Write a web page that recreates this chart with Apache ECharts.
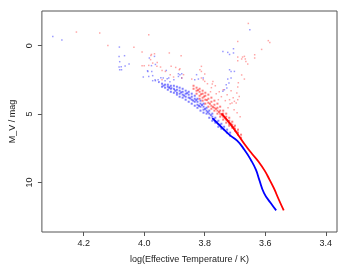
<!DOCTYPE html>
<html><head><meta charset="utf-8">
<script src="https://cdn.jsdelivr.net/npm/echarts@6/dist/echarts.min.js"></script>
<style>html,body{margin:0;padding:0;background:#fff}#c{width:349px;height:271px}</style>
</head><body><div id="c"></div>
<script>
var xTicks = [3.4, 3.6, 3.8, 4.0, 4.2];
var yTicks = [0, 5, 10];
var xMin = 3.363, xMax = 4.338, yMin = -2.54, yMax = 13.63;

var blueScatter = [[4.302,-0.68],[4.272,-0.42],[4.082,0.10],[4.083,0.78],[4.065,0.73],[4.081,1.17],[4.050,1.34],[4.063,1.49],[4.083,1.56],[4.076,1.54],[4.081,1.76],[4.075,1.76],[3.966,0.78],[3.983,0.90],[3.976,1.46],[3.963,1.37],[4.003,2.29],[3.988,1.88],[3.975,1.88],[3.972,2.19],[3.972,2.56],[3.963,2.56],[3.952,2.68],[3.937,2.36],[3.927,1.81],[3.924,2.41],[3.919,2.36],[3.887,2.05],[3.876,2.05],[3.882,2.12],[3.887,2.25],[3.876,2.36],[3.827,2.12],[3.821,2.44],[3.805,2.36],[3.833,2.49],[3.740,0.42],[3.724,0.49],[3.718,0.64],[3.705,0.22],[3.705,0.53],[3.718,1.76],[3.713,1.88],[3.702,1.88],[3.713,2.36],[3.724,2.44],[3.720,2.73],[3.729,2.85],[3.727,3.09],[3.735,3.22],[3.740,3.34],[3.651,-1.17],[3.989,1.83],[3.985,2.25],[3.916,3.02],[3.909,3.09],[3.900,3.22],[3.954,2.49],[3.945,2.34],[3.931,2.56],[3.915,2.63],[3.902,2.49],[3.964,2.49],[3.951,2.63]];

var redScatter = [[4.224,-1.00],[4.147,-0.93],[4.120,-0.02],[4.034,0.12],[3.985,-0.80],[4.007,0.46],[3.976,0.64],[3.966,0.59],[3.978,0.71],[3.979,1.02],[3.972,1.27],[3.957,1.22],[3.917,0.53],[3.878,0.73],[4.007,1.46],[4.000,1.46],[3.985,1.44],[3.946,1.56],[3.958,1.51],[3.941,1.81],[3.930,1.88],[3.911,1.51],[3.896,1.59],[3.882,1.68],[3.884,1.76],[3.914,2.12],[3.903,2.29],[3.941,2.49],[3.876,2.36],[3.870,2.12],[3.843,2.44],[3.811,1.88],[3.800,2.07],[3.811,2.36],[3.816,1.76],[3.811,1.51],[3.805,2.49],[3.800,2.61],[3.773,2.61],[3.775,2.80],[3.656,-1.63],[3.691,-0.31],[3.590,-0.37],[3.585,-0.24],[3.612,0.27],[3.635,0.66],[3.635,0.90],[3.691,0.83],[3.675,0.83],[3.669,0.78],[3.666,0.97],[3.678,0.97],[3.691,1.10],[3.664,1.15],[3.658,1.34],[3.678,2.14],[3.669,2.44],[3.689,2.71],[3.691,3.02],[3.694,3.46],[3.686,3.71],[3.691,3.95],[3.696,4.19],[3.702,4.07],[3.718,3.95],[3.710,4.19],[3.791,2.78],[3.778,3.07],[3.765,2.93],[3.752,3.37],[3.739,3.22],[3.745,3.73],[3.726,3.58],[3.732,4.02],[3.716,4.24],[3.706,3.80],[3.713,3.29],[3.762,3.51],[3.781,3.37],[3.723,4.54],[3.703,4.68],[3.693,4.90],[3.683,5.19],[3.755,3.95]];

var blueBand = [[3.941,2.78],[3.941,3.00],[3.931,2.85],[3.931,3.07],[3.922,2.85],[3.922,3.00],[3.922,3.22],[3.912,2.93],[3.912,3.15],[3.912,3.37],[3.902,2.93],[3.902,3.15],[3.902,3.44],[3.892,3.00],[3.892,3.22],[3.892,3.44],[3.892,3.58],[3.883,3.07],[3.883,3.29],[3.883,3.51],[3.883,3.73],[3.873,3.15],[3.873,3.37],[3.873,3.58],[3.873,3.80],[3.863,3.29],[3.863,3.51],[3.863,3.73],[3.863,3.95],[3.853,3.37],[3.853,3.58],[3.853,3.80],[3.853,4.10],[3.843,3.51],[3.843,3.73],[3.843,3.95],[3.843,4.24],[3.833,3.66],[3.833,3.88],[3.833,4.10],[3.833,4.39],[3.824,3.88],[3.824,4.10],[3.824,4.32],[3.824,4.54],[3.814,4.02],[3.814,4.24],[3.814,4.46],[3.814,4.75],[3.804,4.24],[3.804,4.46],[3.804,4.68],[3.804,4.90],[3.794,4.54],[3.794,4.75],[3.794,4.97],[3.785,4.75],[3.785,4.97],[3.785,5.27],[3.775,4.97],[3.775,5.19],[3.775,5.49],[3.765,5.27],[3.765,5.49],[3.765,5.63],[3.755,5.49],[3.755,5.71],[3.755,5.93],[3.745,5.71],[3.745,5.93],[3.745,6.07],[3.736,5.93],[3.736,6.14],[3.726,6.14],[3.726,6.36],[3.716,6.36],[3.716,6.58],
  [3.936,2.92],[3.917,3.08],[3.897,3.30],[3.878,3.42],[3.868,3.65],[3.858,3.47],[3.848,3.85],[3.838,4.02],[3.828,3.98],[3.819,4.40],[3.809,4.34],[3.799,4.62],[3.790,4.86],[3.780,5.08],[3.770,5.36],[3.760,5.58],[3.750,5.80]];

var redBand = [[3.837,2.93],[3.837,3.15],[3.827,3.07],[3.827,3.29],[3.827,3.51],[3.817,3.15],[3.817,3.37],[3.817,3.66],[3.817,3.88],[3.807,3.29],[3.807,3.51],[3.807,3.80],[3.807,4.02],[3.798,3.44],[3.798,3.66],[3.798,3.95],[3.798,4.24],[3.788,3.58],[3.788,3.88],[3.788,4.17],[3.788,4.46],[3.778,3.80],[3.778,4.10],[3.778,4.39],[3.778,4.61],[3.768,4.02],[3.768,4.32],[3.768,4.54],[3.768,4.75],[3.758,4.24],[3.758,4.54],[3.758,4.75],[3.758,4.97],[3.749,4.46],[3.749,4.75],[3.749,4.97],[3.749,5.19],[3.739,4.75],[3.739,4.97],[3.739,5.19],[3.739,5.41],[3.729,4.97],[3.729,5.19],[3.729,5.41],[3.729,5.63],[3.719,5.27],[3.719,5.49],[3.719,5.71],[3.719,5.85],[3.709,5.56],[3.709,5.78],[3.709,6.00],[3.700,5.85],[3.700,6.07],[3.700,6.22],[3.690,6.14],[3.690,6.36],[3.690,6.51],[3.680,6.51],[3.680,6.73],
  [3.822,3.25],[3.812,3.55],[3.802,3.72],[3.793,3.98],[3.783,4.25],[3.773,4.48],[3.763,4.62],[3.753,4.85],[3.744,5.08],[3.734,5.30],[3.724,5.52],[3.714,5.70],[3.704,5.95],[3.695,6.28]];

var blueLine = [[3.775,5.30],[3.745,5.95],[3.719,6.51],[3.693,6.95],[3.669,7.61],[3.648,8.34],[3.631,9.07],[3.620,9.80],[3.604,10.78],[3.582,11.51],[3.564,12.05]];
var redLine = [[3.745,4.95],[3.719,5.63],[3.690,6.51],[3.667,7.24],[3.644,7.90],[3.622,8.49],[3.602,9.14],[3.586,9.80],[3.572,10.41],[3.555,11.27],[3.539,12.05]];

var font = 'Liberation Sans, Arial, sans-serif';
var tickColor = '#555';

var chart = echarts.init(document.getElementById('c'), null, {renderer: 'canvas'});
chart.setOption({
  animation: false,
  grid: {left: 38, right: 12, top: 11, bottom: 39, show: true, borderColor: tickColor, borderWidth: 1, containLabel: false},
  xAxis: {
    type: 'value', inverse: true, min: xMin, max: xMax,
    name: 'log(Effective Temperature / K)', nameLocation: 'middle', nameGap: 23,
    nameTextStyle: {fontFamily: font, fontSize: 9, color: '#222'},
    axisLine: {show: false, onZero: false},
    axisTick: {show: true, customValues: xTicks, length: 4, lineStyle: {color: tickColor, width: 1}},
    axisLabel: {customValues: xTicks, margin: 7, fontFamily: font, fontSize: 9, color: '#222', formatter: function(v){return v.toFixed(1);}},
    splitLine: {show: false}
  },
  yAxis: {
    type: 'value', inverse: true, min: yMin, max: yMax,
    name: 'M_V / mag', nameLocation: 'middle', nameGap: 20,
    nameTextStyle: {fontFamily: font, fontSize: 9, color: '#222'},
    axisLine: {show: false, onZero: false},
    axisTick: {show: true, customValues: yTicks, length: 4, lineStyle: {color: tickColor, width: 1}},
    axisLabel: {customValues: yTicks, rotate: 90, margin: 8, fontFamily: font, fontSize: 9, color: '#222'},
    splitLine: {show: false}
  },
  series: [
    {type: 'scatter', data: blueScatter, symbol: 'rect', symbolSize: 1.5, itemStyle: {color: '#0000ff', opacity: 0.4}},
    {type: 'scatter', data: redScatter, symbol: 'rect', symbolSize: 1.5, itemStyle: {color: '#ff0000', opacity: 0.35}},
    {type: 'scatter', data: blueBand, symbol: 'rect', symbolSize: 2, itemStyle: {color: '#0000ff', opacity: 0.5}},
    {type: 'scatter', data: redBand, symbol: 'rect', symbolSize: 2, itemStyle: {color: '#ff0000', opacity: 0.5}},
    {type: 'line', data: blueLine, smooth: 0.5, symbol: 'none', lineStyle: {color: '#0000ff', width: 1.8}},
    {type: 'line', data: redLine, smooth: 0.5, symbol: 'none', lineStyle: {color: '#ff0000', width: 1.8}}
  ]
});
</script></body></html>
